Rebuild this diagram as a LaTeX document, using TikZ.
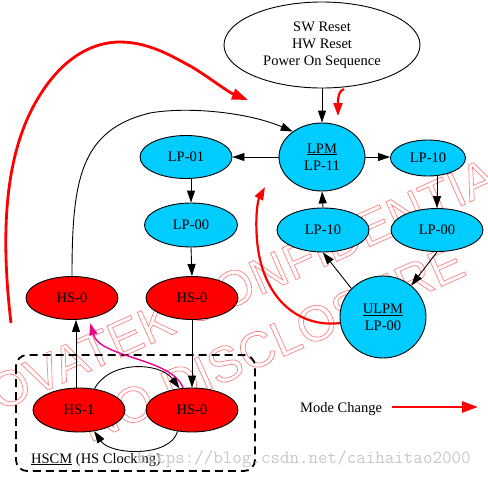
\documentclass[tikz,border=0pt]{standalone}
\usepackage{fontspec}
\setmainfont{Liberation Serif}
\newfontfamily\wmfont{Liberation Sans}
\usetikzlibrary{arrows.meta,shapes.geometric,calc}
\definecolor{lpblue}{RGB}{0,204,255}
\definecolor{wmred}{RGB}{255,130,130}
\definecolor{urlgray}{RGB}{200,200,200}
\newcommand\outlinetext[1]{\special{pdf:literal direct 1 Tr 0.7 w}#1\special{pdf:literal direct 0 Tr}}
\begin{document}
\begin{tikzpicture}[x=1pt,y=-1pt,
  every node/.style={font=\fontsize{14.5}{17}\selectfont},
  st/.style={ellipse, draw=black, line width=0.9pt, inner sep=0pt, align=center},
  bluen/.style={st, fill=lpblue},
  redn/.style={st, fill=red},
  edge/.style={draw=black, line width=0.9pt, -{Triangle[length=12pt,width=8pt]}},
  mode/.style={draw=red, line width=2.8pt, -{Triangle[length=16pt,width=11pt]}},
  modesmall/.style={draw=red, line width=2.2pt, -{Triangle[length=13pt,width=9pt]}},
  magedge/.style={draw=magenta, line width=1.4pt, -{Triangle[length=12pt,width=8pt]}},
  cluster/.style={draw=black, line width=1.8pt, dash pattern=on 8pt off 5pt, rounded corners=11pt},
  wm/.style={text=wmred, font=\wmfont\fontsize{50}{50}\selectfont, inner sep=0pt, rotate=24},
  urlt/.style={text=urlgray, font=\ttfamily\fontsize{18.5}{18.5}\selectfont, inner sep=0pt},
  lbl/.style={inner sep=0pt}
]
\useasboundingbox (0,0) rectangle (488,477);
\fill[white] (0,0) rectangle (488,477);

% watermark (behind the diagram)
\node[wm] (wm1) at (239,286) {\outlinetext{NOVATEK CONFIDENTIAL}};
\node[wm] (wm2) at (272,343) {\outlinetext{NO DISCLOSURE}};

% cluster
\draw[cluster] (16,355) rectangle (255,471);
\node[lbl, anchor=base west] (hscm) at (31,463) {\underline{HSCM} (HS Clocking)};

% nodes
\node[st, fill=white, minimum width=196pt, minimum height=86pt] (reset) at (322,45) {SW Reset\\HW Reset\\Power On Sequence};
\node[bluen, minimum width=86pt, minimum height=68pt] (lpm) at (322,157) {\underline{LPM}\\LP-11};
\node[bluen, minimum width=75pt, minimum height=36pt] (lp10r) at (428,158) {LP-10};
\node[bluen, minimum width=92pt, minimum height=43pt] (lp00r) at (437,230) {LP-00};
\node[bluen, minimum width=92pt, minimum height=44pt] (lp10m) at (323,230) {LP-10};
\node[bluen, minimum width=86pt, minimum height=82pt] (ulpm) at (383,317) {\underline{ULPM}\\LP-00};
\node[bluen, minimum width=92pt, minimum height=43pt] (lp01) at (186,157) {LP-01};
\node[bluen, minimum width=93pt, minimum height=44pt] (lp00l) at (191,225) {LP-00};
\node[redn, minimum width=92pt, minimum height=43pt] (hs0m) at (192,298) {HS-0};
\node[redn, minimum width=92pt, minimum height=43pt] (hs0l) at (72,298) {HS-0};
\node[redn, minimum width=92pt, minimum height=44pt] (hs1) at (79,410) {HS-1};
\node[redn, minimum width=92pt, minimum height=44pt] (hs0b) at (192,410) {HS-0};

% black edges
\draw[edge] (reset.south) -- (lpm.north);
\draw[edge] (lpm.east) -- (lpm.east -| lp10r.west);
\draw[edge] (lpm.west) -- (lp01.east);
\draw[edge] (lp10r.south -| lp00r.north) -- (lp00r.north);
\draw[edge] (lp10m.north) -- (lpm.south);
\draw[edge] (lp00r.south) -- (ulpm.48);
\draw[edge] (ulpm.138) -- (lp10m.south);
\draw[edge] (lp01.south -| lp00l.north) -- (lp00l.north);
\draw[edge] (lp00l.south) -- (hs0m.north);
\draw[edge] (hs0m.south) -- (hs0b.north);
\draw[edge] ($(hs1.north)+(-3,0)$) -- ($(hs0l.south)+(4,0)$);
\draw[edge] (hs0l.north) .. controls (72,180) and (80,130) .. (150,113)
  .. controls (190,106) and (250,113) .. (lpm.139);
\draw[edge] (hs1.54) .. controls (110,360) and (160,362) .. (hs0b.120);
\draw[edge] (hs0b.-124) .. controls (170,458) and (110,455) .. (hs1.-54);
\draw[magedge] (hs0b.112) .. controls (172,358) and (100,358) .. ($(hs0l.-48)+(0,5)$);

% mode change arrows
\coordinate (bigA) at (11,323);
\coordinate (bigB) at (248,100);
\draw[mode] (bigA) .. controls (0,230) and (5,150) .. (40,95)
  .. controls (65,55) and (95,42) .. (120,42)
  .. controls (150,42) and (175,58) .. (192,67)
  .. controls (210,78) and (228,92) .. (bigB);
\coordinate (hookA) at (344,89);
\coordinate (hookB) at (338,116);
\draw[modesmall] (hookA) .. controls (339,91) and (338,96) .. (hookB);
\coordinate (loopB) at (265,187);
\draw[modesmall] (ulpm.188) .. controls (300,328) and (262,300) .. (257,240)
  .. controls (255,215) and (258,200) .. (loopB);

% legend
\node[lbl, anchor=base west] (legend) at (300,412) {Mode Change};
\coordinate (legA) at (392,407);
\coordinate (legB) at (478,407);
\draw[mode] (legA) -- (legB);

% url mark
\node[urlt, anchor=base west] (url) at (137,463) {https://blog.csdn.net/caihaitao2000};
\end{tikzpicture}
\end{document}
